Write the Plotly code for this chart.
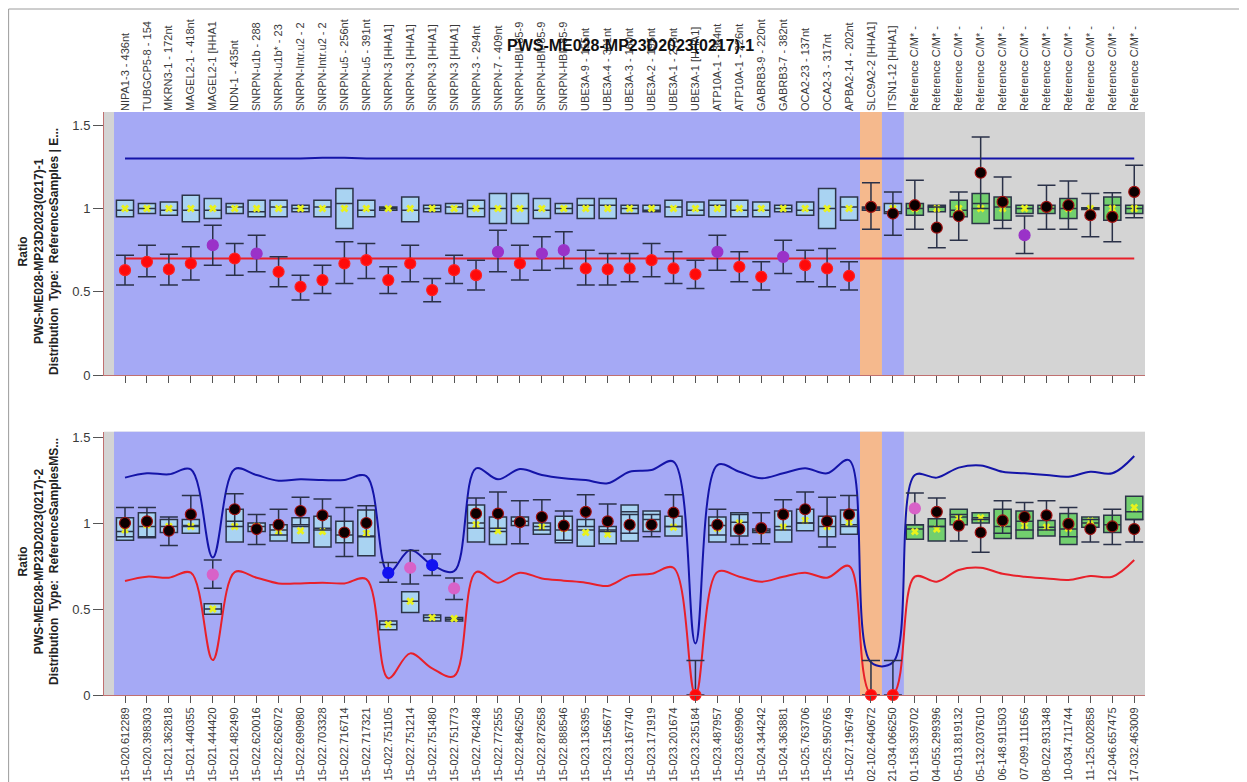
import plotly.graph_objects as go

# ---------------- categories ----------------
top_labels = [
    "NIPA1-3 - 436nt", "TUBGCP5-8 - 154", "MKRN3-1 - 172nt", "MAGEL2-1 - 418nt",
    "MAGEL2-1 [HHA1", "NDN-1 - 435nt", "SNRPN-u1b - 288", "SNRPN-u1b* - 23",
    "SNRPN-Intr.u2 - 2", "SNRPN-Intr.u2 - 2", "SNRPN-u5 - 256nt", "SNRPN-u5 - 391nt",
    "SNRPN-3 [HHA1]", "SNRPN-3 [HHA1]", "SNRPN-3 [HHA1]", "SNRPN-3 [HHA1]",
    "SNRPN-3 - 294nt", "SNRPN-7 - 409nt", "SNRPN-HBII-85-9", "SNRPN-HBII-85-9",
    "SNRPN-HBII-85-9", "UBE3A-9 - 155nt", "UBE3A-4 - 301nt", "UBE3A-3 - 160nt",
    "UBE3A-2 - 195nt", "UBE3A-1 - 273nt", "UBE3A-1 [HHA1]", "ATP10A-1 - 364nt",
    "ATP10A-1 - 226nt", "GABRB3-9 - 220nt", "GABRB3-7 - 382nt", "OCA2-23 - 137nt",
    "OCA2-3 - 317nt", "APBA2-14 - 202nt", "SLC9A2-2 [HHA1]", "ITSN1-12 [HHA1]",
    "Reference C/M* -", "Reference C/M* -", "Reference C/M* -", "Reference C/M* -",
    "Reference C/M* -", "Reference C/M* -", "Reference C/M* -", "Reference C/M* -",
    "Reference C/M* -", "Reference C/M* -", "Reference C/M* -",
]
bottom_labels = [
    "15-020.612289", "15-020.398303", "15-021.362818", "15-021.440355", "15-021.444420",
    "15-021.482490", "15-022.620016", "15-022.626072", "15-022.690980", "15-022.703328",
    "15-022.716714", "15-022.717321", "15-022.751105", "15-022.751214", "15-022.751480",
    "15-022.751773", "15-022.764248", "15-022.772555", "15-022.846250", "15-022.872658",
    "15-022.888546", "15-023.136395", "15-023.156677", "15-023.167740", "15-023.171919",
    "15-023.201674", "15-023.235184", "15-023.487957", "15-023.659906", "15-024.344242",
    "15-024.363881", "15-025.763706", "15-025.950765", "15-027.196749", "02-102.640672",
    "21-034.066250", "01-158.359702", "04-055.299396", "05-013.819132", "05-132.037610",
    "06-148.911503", "07-099.111656", "08-022.931348", "10-034.711744", "11-125.002858",
    "12-046.657475", "17-032.463009",
]
# box type per category: S = sample probe (light blue), R = reference probe (green)
box_kind = ["S"] * 36 + ["R"] * 11

# ---------------- panel 1 ----------------
p1_q1 = [0.95, 0.97, 0.96, 0.92, 0.94, 0.97, 0.95, 0.95, 0.98, 0.95, 0.88, 0.95, 0.99, 0.92, 0.98, 0.97,
         0.95, 0.91, 0.91, 0.94, 0.97, 0.94, 0.94, 0.97, 0.98, 0.95, 0.96, 0.95, 0.95, 0.95, 0.98, 0.96,
         0.88, 0.93, 0.99, 0.97, 0.96, 0.98, 0.95, 0.91, 0.93, 0.97, 0.97, 0.94, 0.995, 0.93, 0.97]
p1_med = [0.99, 1.00, 0.99, 0.99, 0.99, 1.01, 0.98, 1.01, 1.00, 1.01, 1.03, 0.99, 1.00, 0.99, 1.00, 1.01,
          1.00, 1.00, 1.00, 0.99, 1.00, 1.02, 1.02, 1.00, 0.99, 1.01, 0.99, 1.02, 0.99, 0.99, 1.00, 0.99,
          1.00, 1.01, 1.00, 0.98, 1.00, 1.01, 0.99, 1.03, 1.01, 1.00, 1.00, 1.00, 1.00, 1.02, 1.00]
p1_q3 = [1.05, 1.03, 1.04, 1.08, 1.06, 1.03, 1.05, 1.05, 1.02, 1.05, 1.12, 1.05, 1.01, 1.07, 1.02, 1.03,
         1.05, 1.09, 1.09, 1.06, 1.03, 1.06, 1.06, 1.02, 1.02, 1.05, 1.04, 1.05, 1.05, 1.04, 1.02, 1.04,
         1.12, 1.07, 1.01, 1.03, 1.03, 1.02, 1.05, 1.09, 1.07, 1.02, 1.02, 1.06, 1.005, 1.07, 1.02]
p1_mean = [1.00, 1.00, 1.00, 1.00, 1.00, 1.00, 1.00, 1.00, 1.00, 1.00, 1.00, 1.00, 1.00, 1.00, 1.00, 1.00,
           1.00, 1.00, 1.00, 1.00, 1.00, 1.00, 1.00, 1.00, 1.00, 1.00, 1.00, 1.00, 1.00, 1.00, 1.00, 1.00,
           1.00, 1.00, 1.00, 1.00, 1.00, 1.00, 1.00, 1.00, 1.00, 1.00, 1.00, 1.00, 1.00, 1.00, 1.00]
p1_val = [0.63, 0.68, 0.635, 0.67, 0.78, 0.70, 0.73, 0.62, 0.53, 0.57, 0.67, 0.69, 0.57, 0.67, 0.51, 0.63,
          0.60, 0.74, 0.67, 0.73, 0.75, 0.64, 0.635, 0.64, 0.69, 0.64, 0.605, 0.74, 0.65, 0.59, 0.71, 0.66,
          0.64, 0.595, 1.01, 0.97, 1.02, 0.885, 0.955, 1.215, 1.04, 0.84, 1.01, 1.02, 0.96, 0.95, 1.10]
p1_lo = [0.54, 0.59, 0.54, 0.57, 0.66, 0.60, 0.62, 0.53, 0.45, 0.49, 0.55, 0.58, 0.49, 0.56, 0.44, 0.55,
         0.51, 0.62, 0.57, 0.63, 0.64, 0.54, 0.54, 0.56, 0.59, 0.55, 0.52, 0.63, 0.56, 0.51, 0.61, 0.56,
         0.53, 0.51, 0.875, 0.84, 0.875, 0.765, 0.81, 1.00, 0.88, 0.73, 0.875, 0.875, 0.83, 0.80, 0.945]
p1_hi = [0.72, 0.78, 0.725, 0.77, 0.90, 0.79, 0.84, 0.71, 0.60, 0.66, 0.80, 0.79, 0.65, 0.78, 0.58, 0.72,
         0.69, 0.87, 0.78, 0.83, 0.86, 0.75, 0.73, 0.73, 0.79, 0.74, 0.69, 0.84, 0.74, 0.68, 0.81, 0.75,
         0.76, 0.68, 1.155, 1.10, 1.17, 1.01, 1.10, 1.43, 1.19, 0.955, 1.14, 1.165, 1.09, 1.095, 1.26]
p1_status = ["L", "L", "L", "L", "P", "L", "P", "L", "L", "L", "L", "L", "L", "L", "L", "L",
             "L", "P", "L", "P", "P", "L", "L", "L", "L", "L", "L", "P", "L", "L", "P", "L",
             "L", "L", "N", "N", "N", "N", "N", "N", "N", "P", "N", "N", "N", "N", "N"]
p1_upper = [1.30, 1.30, 1.30, 1.30, 1.30, 1.30, 1.30, 1.30, 1.30, 1.305, 1.305, 1.30, 1.30, 1.30, 1.30, 1.30,
            1.30, 1.30, 1.30, 1.30, 1.30, 1.30, 1.30, 1.30, 1.30, 1.30, 1.30, 1.30, 1.30, 1.30, 1.30, 1.30,
            1.30, 1.30, 1.30, 1.30, 1.30, 1.30, 1.30, 1.30, 1.30, 1.30, 1.30, 1.30, 1.30, 1.30, 1.30]
p1_lower = [0.70, 0.70, 0.70, 0.70, 0.70, 0.70, 0.70, 0.70, 0.70, 0.70, 0.70, 0.70, 0.70, 0.70, 0.70, 0.70,
            0.70, 0.70, 0.70, 0.70, 0.70, 0.70, 0.70, 0.70, 0.70, 0.70, 0.70, 0.70, 0.70, 0.70, 0.70, 0.70,
            0.70, 0.70, 0.70, 0.70, 0.70, 0.70, 0.70, 0.70, 0.70, 0.70, 0.70, 0.70, 0.70, 0.70, 0.70]

# ---------------- panel 2 ----------------
p2_q1 = [0.90, 0.915, 0.945, 0.94, 0.47, 0.89, 0.95, 0.895, 0.885, 0.86, 0.885, 0.81, 0.38, 0.48, 0.43, 0.43,
         0.89, 0.875, 0.985, 0.935, 0.885, 0.865, 0.88, 0.895, 0.95, 0.925, None, 0.89, 0.925, 0.945, 0.89, 0.955,
         0.92, 0.935, None, None, 0.905, 0.895, 0.99, 1.00, 0.91, 0.91, 0.925, 0.875, 0.975, 0.945, 1.02]
p2_med = [0.95, 0.98, 0.98, 0.985, 0.50, 1.01, 0.98, 0.96, 0.98, 0.97, 0.93, 0.925, 0.41, 0.545, 0.45, 0.44,
          1.00, 0.95, 1.01, 0.98, 0.96, 0.96, 0.96, 1.065, 1.02, 0.98, None, 0.985, 1.005, 0.955, 0.98, 1.00,
          0.98, 0.99, None, None, 0.965, 0.98, 1.035, 1.03, 0.98, 1.01, 0.975, 0.965, 1.00, 0.99, 1.065]
p2_q3 = [1.03, 1.06, 1.02, 1.02, 0.53, 1.08, 1.00, 0.99, 1.03, 1.04, 1.01, 1.075, 0.43, 0.60, 0.465, 0.45,
         1.105, 1.035, 1.035, 1.00, 1.04, 1.02, 0.98, 1.105, 1.07, 1.04, None, 1.035, 1.06, 0.965, 1.07, 1.08,
         1.04, 1.075, None, None, 0.99, 1.025, 1.08, 1.06, 1.08, 1.07, 1.015, 1.055, 1.035, 1.045, 1.155]
p2_mean = [0.96, 0.99, 0.98, 0.98, 0.50, 0.98, 0.98, 0.95, 0.955, 0.95, 0.95, 0.94, 0.41, 0.545, 0.45, 0.445,
           0.99, 0.955, 1.00, 0.975, 0.97, 0.945, 0.935, 0.99, 0.99, 0.975, None, 0.97, 1.00, 0.955, 0.975, 1.015,
           0.98, 1.005, None, None, 0.95, 0.965, 1.03, 1.03, 1.00, 0.985, 0.975, 0.97, 1.01, 0.99, 1.09]
p2_val = [1.00, 1.01, 0.955, 1.05, 0.70, 1.08, 0.965, 0.99, 1.07, 1.045, 0.945, 1.00, 0.71, 0.74, 0.755, 0.62,
          1.055, 1.055, 1.005, 1.035, 0.985, 1.065, 1.01, 0.99, 0.99, 1.06, 0.0, 0.99, 0.965, 0.97, 1.05, 1.08,
          1.01, 1.05, 0.0, 0.0, 1.085, 1.065, 0.985, 0.945, 1.015, 1.035, 1.045, 0.995, 0.965, 0.98, 0.965]
p2_lo = [0.92, 0.92, 0.87, 0.98, 0.62, 0.98, 0.875, 0.93, 0.99, 0.96, 0.805, 0.92, 0.655, 0.645, 0.695, 0.555,
         0.97, 0.97, 0.88, 0.96, 0.90, 0.98, 0.95, 0.94, 0.92, 0.98, 0.0, 0.93, 0.875, 0.88, 0.96, 1.00,
         0.86, 0.98, 0.0, 0.0, 0.99, 0.98, 0.895, 0.83, 0.94, 0.96, 0.96, 0.92, 0.89, 0.875, 0.89]
p2_hi = [1.09, 1.09, 1.035, 1.16, 0.785, 1.17, 1.05, 1.08, 1.15, 1.14, 1.09, 1.10, 0.77, 0.84, 0.82, 0.68,
         1.145, 1.18, 1.13, 1.135, 1.07, 1.165, 1.11, 1.05, 1.05, 1.165, 0.20, 1.08, 1.05, 1.06, 1.135, 1.18,
         1.15, 1.16, 0.20, 0.20, 1.175, 1.145, 1.05, 1.02, 1.13, 1.12, 1.13, 1.09, 1.02, 1.08, 1.02]
p2_status = ["N", "N", "N", "N", "M", "N", "N", "N", "N", "N", "N", "N", "B", "M", "B", "M",
             "N", "N", "N", "N", "N", "N", "N", "N", "N", "N", "L", "N", "N", "N", "N", "N",
             "N", "N", "L", "L", "M", "N", "N", "N", "N", "N", "N", "N", "N", "N", "N"]
p2_upper = [1.264, 1.289, 1.283, 1.312, 0.80, 1.314, 1.279, 1.246, 1.254, 1.250, 1.250, 1.273, 0.711, 0.843,
            0.756, 0.72, 1.318, 1.254, 1.314, 1.279, 1.260, 1.250, 1.231, 1.298, 1.308, 1.357, 0.30, 1.337,
            1.298, 1.260, 1.289, 1.318, 1.289, 1.366, 0.19, 0.19, 1.279, 1.264, 1.322, 1.335, 1.298, 1.289,
            1.279, 1.269, 1.298, 1.289, 1.390]
p2_lower = [0.663, 0.688, 0.682, 0.711, 0.203, 0.715, 0.682, 0.649, 0.649, 0.653, 0.649, 0.674, 0.097, 0.242,
            0.155, 0.11, 0.715, 0.653, 0.711, 0.678, 0.665, 0.653, 0.634, 0.694, 0.705, 0.740, 0.0, 0.715,
            0.688, 0.659, 0.688, 0.711, 0.682, 0.750, 0.0, 0.0, 0.688, 0.659, 0.727, 0.740, 0.705, 0.688,
            0.678, 0.669, 0.692, 0.688, 0.785]

# ---------------- styles ----------------
OFF = 8                      # page body margin in the browser
W, H = 1247 - OFF, 782 - OFF
BLUE_BG = "#a5a9f5"
ORANGE_BG = "#f5b98d"
GRAY_BG = "#d4d4d4"
BOX_S = "#a9d3f2"
BOX_R = "#72cf6e"
BOX_LINE = "#2c3448"
ERR_C = "#2a3148"
X_C = "#e9f21c"
UP_C = "#1414a8"
LO_C = "#e8202a"
AXC = "#c07070"
TICKC = "#555555"
FONT = "Liberation Sans, Arial, sans-serif"
status_fill = {"L": "#ff0a0a", "P": "#9a32c8", "M": "#d862c8", "N": "#0a0000", "B": "#1212f0"}
status_line = {"L": "#ff2020", "P": "#9a32c8", "M": "#d862c8", "N": "#a01010", "B": "#1212f0"}


def px(x):
    return (x - OFF) / W


def py(y):
    return 1 - (y - OFF) / H


N = len(bottom_labels)
idx = list(range(N))
XR = [-0.957, 46.49]
XD = [px(104), px(1145)]
Y1D = [py(375), py(112)]
Y2D = [py(695), py(431.7)]

fig = go.Figure()


def add_panel(xa, ya, q1, med, q3, mean, val, lo, hi, status, upper, lower, spline):
    for kind, fill in (("S", BOX_S), ("R", BOX_R)):
        xs = [i for i in idx if box_kind[i] == kind and q1[i] is not None]
        fig.add_trace(go.Box(
            x=xs, q1=[q1[i] for i in xs], median=[med[i] for i in xs], q3=[q3[i] for i in xs],
            lowerfence=[q1[i] for i in xs], upperfence=[q3[i] for i in xs],
            width=0.78, whiskerwidth=0, fillcolor=fill, line=dict(color=BOX_LINE, width=1.5),
            boxpoints=False, xaxis=xa, yaxis=ya, hoverinfo="skip", orientation="v"))
    xm = [i for i in idx if mean[i] is not None]
    fig.add_trace(go.Scatter(x=xm, y=[mean[i] for i in xm], mode="markers", xaxis=xa, yaxis=ya,
                             marker=dict(symbol="x", size=7, color=X_C, line=dict(width=0)),
                             hoverinfo="skip"))
    shape = "spline" if spline else "linear"
    fig.add_trace(go.Scatter(x=idx, y=upper, mode="lines", xaxis=xa, yaxis=ya,
                             line=dict(color=UP_C, width=2, shape=shape, smoothing=1.0)))
    fig.add_trace(go.Scatter(x=idx, y=lower, mode="lines", xaxis=xa, yaxis=ya,
                             line=dict(color=LO_C, width=2, shape=shape, smoothing=1.0)))
    fig.add_trace(go.Scatter(
        x=idx, y=val, mode="markers", xaxis=xa, yaxis=ya, cliponaxis=False,
        marker=dict(size=11, color=[status_fill[s] for s in status],
                    line=dict(color=[status_line[s] for s in status], width=1.2)),
        error_y=dict(type="data", symmetric=False,
                     array=[h - v for h, v in zip(hi, val)],
                     arrayminus=[v - l for v, l in zip(val, lo)],
                     color=ERR_C, thickness=1.5, width=9)))


add_panel("x", "y", p1_q1, p1_med, p1_q3, p1_mean, p1_val, p1_lo, p1_hi, p1_status, p1_upper, p1_lower, False)
add_panel("x2", "y2", p2_q1, p2_med, p2_q3, p2_mean, p2_val, p2_lo, p2_hi, p2_status, p2_upper, p2_lower, True)
# invisible trace to carry the top category axis
fig.add_trace(go.Scatter(x=[0], y=[0], xaxis="x3", yaxis="y", mode="markers",
                         marker=dict(opacity=0), hoverinfo="skip"))

shapes = []
for xr, yr in (("x", "y"), ("x2", "y2")):
    for x0, x1, c in ((-0.5, 33.5, BLUE_BG), (33.5, 34.5, ORANGE_BG), (34.5, 35.5, BLUE_BG)):
        shapes.append(dict(type="rect", xref=xr, yref=yr + " domain", x0=x0, x1=x1, y0=0, y1=1,
                           fillcolor=c, line=dict(width=0), layer="below"))
# outer frame lines
shapes.append(dict(type="line", xref="paper", yref="paper", x0=0.0005, x1=1, y0=py(9), y1=py(9),
                   line=dict(color="#9c9c9c", width=1)))
shapes.append(dict(type="line", xref="paper", yref="paper", x0=0.0005, x1=0.0005, y0=0, y1=py(9),
                   line=dict(color="#9c9c9c", width=1)))

yax_common = dict(range=None, tickvals=[0, 0.5, 1, 1.5], ticktext=["0", "0.5", "1", "1.5"],
                  ticks="outside", ticklen=10, tickcolor=TICKC, showline=True, linecolor=AXC, linewidth=1,
                  showgrid=False, zeroline=False, tickfont=dict(family=FONT, size=13, color="#3a3a3a"),
                  fixedrange=True, automargin=False)
xax_common = dict(range=XR, tickvals=idx, ticks="outside", ticklen=7, tickcolor=TICKC, showline=True,
                  linecolor=AXC, linewidth=1, showgrid=False, zeroline=False, domain=XD, fixedrange=True,
                  automargin=False)

y1 = dict(yax_common); y1.update(range=[0, 1.58], domain=Y1D, anchor="x")
y2 = dict(yax_common); y2.update(range=[0, 1.531], domain=Y2D, anchor="x2")
x1 = dict(xax_common); x1.update(anchor="y", showticklabels=False)
x2 = dict(xax_common); x2.update(anchor="y2", ticktext=bottom_labels, tickangle=-90,
                                  tickfont=dict(family=FONT, size=11, color="#3a3a3a"))
x3 = dict(range=XR, tickvals=idx, ticktext=top_labels, overlaying="x", side="top", anchor="y",
          tickangle=-90, ticks="", showline=False, showgrid=False, zeroline=False,
          tickfont=dict(family=FONT, size=11, color="#3a3a3a"), fixedrange=True, automargin=False)

NB = "\u00a0"
annotations = [
    dict(text="<b>PWS-ME028-MP23D2023(0217)-1</b>", xref="paper", yref="paper", x=px(630), y=py(45),
         showarrow=False, font=dict(family=FONT, size=16, color="#111111"), xanchor="center", yanchor="middle"),
    dict(text="<b>Ratio<br>PWS-ME028-MP23D2023(0217)-1<br>Distribution" + NB * 2 + "Type:" + NB * 2
              + "ReferenceSamples" + NB + "|" + NB + "E...</b>",
         xref="paper", yref="paper", x=px(38), y=py(252), textangle=-90, showarrow=False,
         font=dict(family=FONT, size=12, color="#222222"), xanchor="center", yanchor="middle"),
    dict(text="<b>Ratio<br>PWS-ME028-MP23D2023(0217)-2<br>Distribution" + NB * 2 + "Type:" + NB * 2
              + "ReferenceSamplesMS...</b>",
         xref="paper", yref="paper", x=px(38), y=py(562), textangle=-90, showarrow=False,
         font=dict(family=FONT, size=12, color="#222222"), xanchor="center", yanchor="middle"),
]

fig.update_layout(
    width=W, height=H, margin=dict(l=0, r=0, t=0, b=0, autoexpand=False), paper_bgcolor="white",
    plot_bgcolor=GRAY_BG, showlegend=False, boxmode="overlay", font=dict(family=FONT),
    xaxis=x1, xaxis2=x2, xaxis3=x3, yaxis=y1, yaxis2=y2,
    shapes=shapes, annotations=annotations,
)

fig.write_html("out.html")
